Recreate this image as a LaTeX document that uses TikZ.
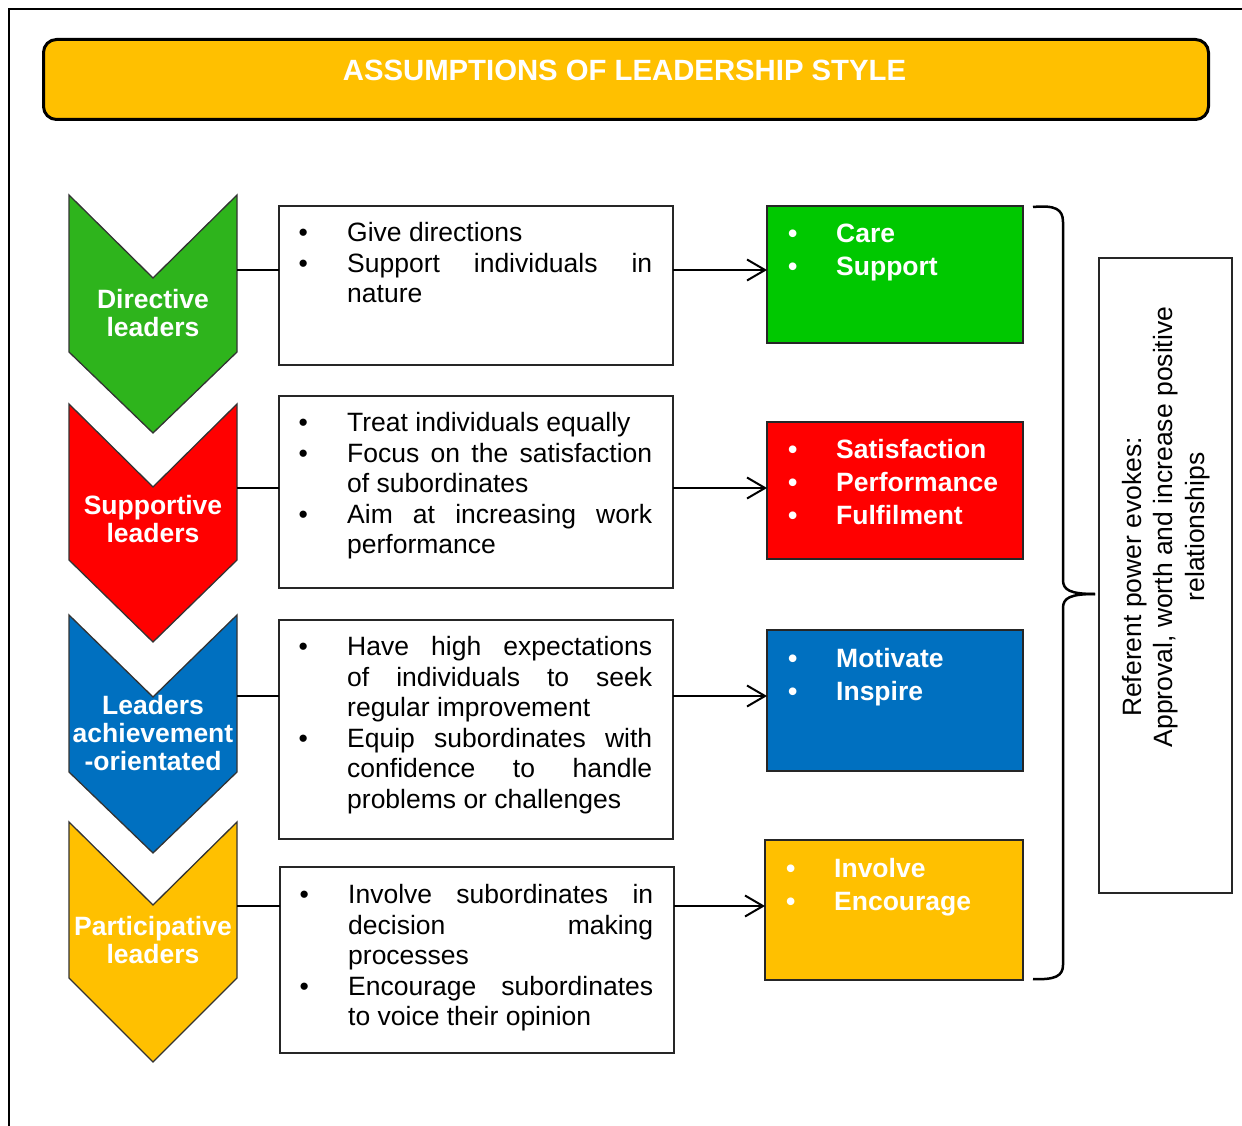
\documentclass[tikz,border=0pt]{standalone}
\usepackage{fontspec}
\setmainfont{Liberation Sans}
\usetikzlibrary{arrows.meta,calc}
\definecolor{chgreen}{RGB}{46,180,28}
\definecolor{bxgreen}{RGB}{0,200,0}
\definecolor{ored}{RGB}{255,0,0}
\definecolor{oblue}{RGB}{0,112,192}
\definecolor{oyellow}{RGB}{255,192,0}
\newcommand{\bl}[1]{\makebox[48.5pt][l]{•}#1}
\newcommand{\jl}[1]{\makebox[305pt][s]{#1}}
\newcommand{\ind}[1]{\hspace*{48.5pt}#1}
\newcommand{\cb}[1]{\makebox[48pt][l]{•}#1}
\tikzset{
  frame/.style={line width=2pt},
  chev/.style={draw=black!80, line width=1.3pt},
  chtext/.style={text=white, font=\fontsize{26.5}{28}\selectfont\bfseries, align=center, inner sep=0pt},
  tbox/.style={draw=black!85, line width=1.1pt, anchor=north west, inner sep=0pt, outer sep=0pt},
  btext/.style={anchor=base west, inner sep=0pt, align=left, font=\fontsize{26.5}{30.5}\selectfont},
  cbox/.style={draw=black!85, line width=1.3pt, anchor=north west, inner sep=0pt, outer sep=0pt},
  ctext/.style={anchor=base west, inner sep=0pt, align=left, text=white,
     font=\fontsize{26.5}{33}\selectfont\bfseries},
  conn/.style={line width=2pt},
  arr/.style={line width=2pt, -{Straight Barb[length=18pt,width=21pt,line width=2pt]}},
  brace/.style={line width=2.5pt},
}
\begin{document}
\begin{tikzpicture}[x=1pt,y=-1pt]
\useasboundingbox (0,0) rectangle (1242,1126);
% outer frame
\draw[frame] (9,1130) -- (9,9) -- (1246,9);
% title
\node[draw=black, line width=3pt, fill=oyellow, rounded corners=13pt, anchor=north west,
      minimum width=1165pt, minimum height=80pt, inner sep=0pt] (title) at (42,38) {};
\node[anchor=base, text=white, font=\fontsize{29.3}{32}\selectfont\bfseries, inner sep=0pt]
   (titletext) at (624.5,80.5) {ASSUMPTIONS OF LEADERSHIP STYLE};
% chevrons
\filldraw[chev, fill=chgreen] (69,195) -- (153,278) -- (237,195) -- (237,352) -- (153,433) -- (69,352) -- cycle;
\filldraw[chev, fill=ored] (69,404) -- (153,487) -- (237,404) -- (237,560) -- (153,642) -- (69,560) -- cycle;
\filldraw[chev, fill=oblue] (69,615) -- (153,697) -- (237,615) -- (237,772) -- (153,853) -- (69,772) -- cycle;
\filldraw[chev, fill=oyellow] (69,822) -- (153,905) -- (237,822) -- (237,978) -- (153,1062) -- (69,978) -- cycle;
\node[chtext] (c1t) at (153,313) {Directive\\leaders};
\node[chtext] (c2t) at (153,519) {Supportive\\leaders};
\node[chtext] (c3t) at (153,733) {Leaders\\achievement\\-orientated};
\node[chtext] (c4t) at (153,940) {Participative\\leaders};
\coordinate (ch1) at (237,270);
\coordinate (ch2) at (237,488);
\coordinate (ch3) at (237,696);
\coordinate (ch4) at (237,906);
% text boxes
\node[tbox, minimum width=394pt, minimum height=159pt] (t1) at (279,206) {};
\node[tbox, minimum width=394pt, minimum height=192pt] (t2) at (279,396) {};
\node[tbox, minimum width=394pt, minimum height=219pt] (t3) at (279,620) {};
\node[tbox, minimum width=394pt, minimum height=186pt] (t4) at (280,867) {};
\node[btext] (t1x) at (298.5,302.5) {\bl{Give directions}\\\bl{\jl{Support individuals in}}\\\ind{nature}};
\node[btext] (t2x) at (298.5,553.5) {\bl{Treat individuals equally}\\\bl{\jl{Focus on the satisfaction}}\\\ind{of subordinates}\\\bl{\jl{Aim at increasing work}}\\\ind{performance}};
\node[btext] (t3x) at (298.5,808) {\bl{\jl{Have high expectations}}\\\ind{\jl{of individuals to seek}}\\\ind{regular improvement}\\\bl{\jl{Equip subordinates with}}\\\ind{\jl{confidence to handle}}\\\ind{problems or challenges}};
\node[btext] (t4x) at (299.5,1025.5) {\bl{\jl{Involve subordinates in}}\\\ind{\jl{decision making}}\\\ind{processes}\\\bl{\jl{Encourage subordinates}}\\\ind{to voice their opinion}};
% coloured boxes
\node[cbox, fill=bxgreen, minimum width=256pt, minimum height=137pt] (r1) at (767,206) {};
\node[cbox, fill=ored, minimum width=256pt, minimum height=137pt] (r2) at (767,422) {};
\node[cbox, fill=oblue, minimum width=256pt, minimum height=141pt] (r3) at (767,630) {};
\node[cbox, fill=oyellow, minimum width=258pt, minimum height=140pt] (r4) at (765,840) {};
\node[ctext] (r1x) at (788,275.5) {\cb{Care}\\\cb{Support}};
\node[ctext] (r2x) at (788,524) {\cb{Satisfaction}\\\cb{Performance}\\\cb{Fulfilment}};
\node[ctext] (r3x) at (788,700.5) {\cb{Motivate}\\\cb{Inspire}};
\node[ctext] (r4x) at (786,910.5) {\cb{Involve}\\\cb{Encourage}};
% connectors
\draw[conn] (ch1) -- (ch1 -| t1.west);
\draw[conn] (ch2) -- (ch2 -| t2.west);
\draw[conn] (ch3) -- (ch3 -| t3.west);
\draw[conn] (ch4) -- (ch4 -| t4.west);
\draw[arr] (ch1 -| t1.east) -- (ch1 -| r1.west);
\draw[arr] (ch2 -| t2.east) -- (ch2 -| r2.west);
\draw[arr] (ch3 -| t3.east) -- (ch3 -| r3.west);
\draw[arr] (ch4 -| t4.east) -- (ch4 -| r4.west);
% brace
\coordinate (btop) at (1033,207);
\coordinate (btip) at (1095,594);
\coordinate (bbot) at (1033,979);
\draw[brace] (btop) .. controls (1055,205) and (1063,209) .. (1063,222) -- (1063,580)
   .. controls (1063,590) and (1070,594) .. (btip);
\draw[brace] (btip) .. controls (1070,594) and (1063,598) .. (1063,608) -- (1063,965)
   .. controls (1063,976) and (1055,980) .. (bbot);
% right box
\node[tbox, minimum width=133pt, minimum height=635pt] (rb) at (1099,258) {};
\node[rotate=90, align=center, inner sep=0pt, font=\fontsize{26.5}{31.5}\selectfont] (rbx) at (1166,527)
   {Referent power evokes:\hspace*{100pt}\\Approval, worth and increase positive\\relationships};
\end{tikzpicture}
\end{document}
